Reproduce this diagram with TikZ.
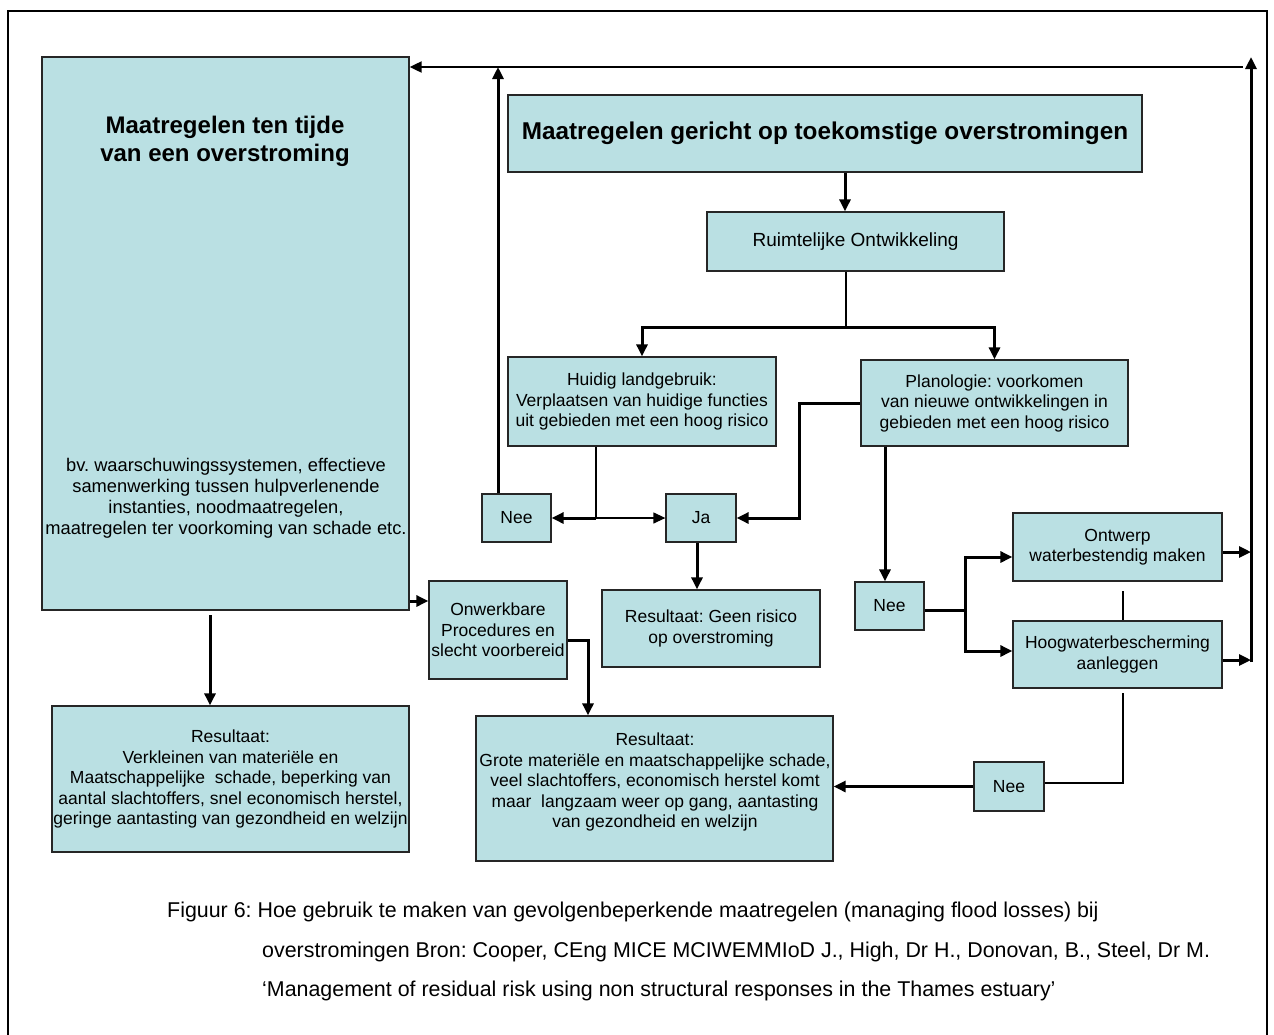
\documentclass[tikz,border=0pt]{standalone}
\usepackage{fontspec}
\setmainfont{Liberation Sans}
\usetikzlibrary{arrows.meta}
\definecolor{boxfill}{RGB}{186,224,227}
\frenchspacing
\begin{document}
\begin{tikzpicture}[x=1pt,y=-1pt,
  box/.style={draw=black!85, line width=1.3pt, fill=boxfill, align=center,
    inner sep=0pt, font=\fontsize{17.5}{20.5}\selectfont},
  boxtext/.style={align=center, inner sep=0pt, font=\fontsize{17.5}{20.5}\selectfont},
  titletext/.style={align=center, inner sep=0pt, font=\fontsize{24}{28}\selectfont\bfseries},
  captext/.style={anchor=base west, inner sep=0pt, font=\fontsize{21.4}{24}\selectfont},
  thinline/.style={line width=1.1pt},
  thickline/.style={line width=3pt},
  thickarrow/.style={line width=3pt, -{Triangle[length=12pt,width=11pt]}},
  thinarrow/.style={line width=1.3pt, -{Triangle[length=12pt,width=11pt]}},
]
\useasboundingbox (0,0) rectangle (1274,1034);
% page frame, open at the bottom edge
\draw[line width=1.3pt] (8,1040) -- (8,11) -- (1267,11) -- (1267,1040);

% boxes
\node[box, minimum width=367pt, minimum height=553pt] (L) at (225.5,333.5) {};
\node[titletext] (Ltitle) at (225,141) {Maatregelen ten tijde\\van een overstroming};
\node[boxtext, font=\fontsize{18.3}{21}\selectfont] (Lbody) at (226,498) {bv. waarschuwingssystemen, effectieve\\samenwerking tussen hulpverlenende\\instanties, noodmaatregelen,\\maatregelen ter voorkoming van schade etc.};

\node[box, minimum width=634pt, minimum height=77pt, font=\fontsize{24.3}{28}\selectfont\bfseries] (T) at (825,133.5) {Maatregelen gericht op toekomstige overstromingen};
\node[box, minimum width=297pt, minimum height=59pt, font=\fontsize{19}{21}\selectfont] (R) at (855.5,241.5) {Ruimtelijke Ontwikkeling};
\node[box, minimum width=268pt, minimum height=89pt] (H) at (642,401.5) {Huidig landgebruik:\\ Verplaatsen van huidige functies\\uit gebieden met een hoog risico};
\node[box, minimum width=267pt, minimum height=86pt] (P) at (994.5,403) {Planologie: voorkomen\\van nieuwe ontwikkelingen in\\gebieden met een hoog risico};
\node[box, minimum width=69pt, minimum height=48pt] (N1) at (516.5,518) {Nee};
\node[box, minimum width=70pt, minimum height=48pt] (J) at (701,518) {Ja};
\node[box, minimum width=218pt, minimum height=77pt] (G) at (711,628.5) {Resultaat: Geen risico\\op overstroming};
\node[box, minimum width=69pt, minimum height=48pt] (N2) at (889.5,606) {Nee};
\node[box, minimum width=209pt, minimum height=68pt] (O) at (1117.5,547) {Ontwerp\\waterbestendig maken};
\node[box, minimum width=209pt, minimum height=67pt] (HW) at (1117.5,654.5) {Hoogwaterbescherming\\aanleggen};
\node[box, minimum width=138pt, minimum height=98pt] (U) at (498,630) {Onwerkbare\\Procedures en\\slecht voorbereid};
\node[box, minimum width=357pt, minimum height=146pt] (RL) at (230.5,779) {Resultaat:\\Verkleinen van materiële en\\Maatschappelijke\ \ schade, beperking van\\aantal slachtoffers, snel economisch herstel,\\geringe aantasting van gezondheid en welzijn};
\node[box, minimum width=357pt, minimum height=145pt] (RM) at (654.5,788.5) {};
\node[boxtext] (RMtext) at (655,782) {Resultaat:\\Grote materiële en maatschappelijke schade,\\veel slachtoffers, economisch herstel komt\\maar\ \ langzaam weer op gang, aantasting\\van gezondheid en welzijn};
\node[box, minimum width=70pt, minimum height=49pt] (N3) at (1009,786.5) {Nee};

% routing points
\coordinate (tr) at (845,0);
\coordinate (split) at (846,327);
\coordinate (hj) at (596,518);
\coordinate (upN) at (498,67);
\coordinate (topR) at (1243,67);
\coordinate (rb) at (1251,662);
\coordinate (rt) at (1251,57);
\coordinate (oa) at (1251,552);
\coordinate (ha) at (1251,660);
\coordinate (pj) at (799,403);
\coordinate (jg) at (697,0);
\coordinate (pn) at (885,0);
\coordinate (br) at (965,610);
\coordinate (ob) at (0,557);
\coordinate (hb) at (0,651);
\coordinate (s1) at (1123,591);
\coordinate (s2) at (1123,620);
\coordinate (hn) at (1123,783);
\coordinate (hs) at (1123,693);
\coordinate (lu) at (0,601);
\coordinate (um) at (588,640);
\coordinate (lr) at (210,615);

% connectors
\draw[thickarrow] (T.south -| tr) -- (R.north -| tr);
\draw[thinline] (R.south -| split) -- (split);
\draw[thickarrow] (split) -| (H.north);
\draw[thickarrow] (split) -| (P.north);
\draw[thinline] (H.south -| hj) -- (hj);
\draw[thickarrow] (hj) -- (N1.east);
\draw[thinarrow] (hj) -- (J.west);
\draw[thickarrow] (N1.north -| upN) -- (upN);
\draw[line width=2pt, -{Triangle[length=12pt,width=11pt]}] (topR) -- (L.east |- topR);
\draw[thickarrow] (rb) -- (rt);
\draw[thickarrow] (O.east |- oa) -- (oa);
\draw[thickarrow] (HW.east |- ha) -- (ha);
\draw[thickarrow] (P.west) -- (pj) |- (J.east);
\draw[thickarrow] (J.south -| jg) -- (G.north -| jg);
\draw[thickarrow] (P.south -| pn) -- (N2.north -| pn);
\draw[thickline] (N2.east |- br) -- (br);
\draw[thickarrow] (br) |- (O.west |- ob);
\draw[thickarrow] (br) |- (HW.west |- hb);
\draw[thinline] (s1) -- (s2);
\draw[thinline] (hs) -- (hn) -- (N3.east |- hn);
\draw[thickarrow] (N3.west) -- (RM.east |- N3.west);
\draw[thickarrow] (L.east |- lu) -- (U.west |- lu);
\draw[thickarrow] (U.east |- um) -- (um) -- (RM.north -| um);
\draw[thickarrow] (lr) -- (RL.north -| lr);

% caption
\node[captext] (cap1) at (167,917) {Figuur 6: Hoe gebruik te maken van gevolgenbeperkende maatregelen (managing flood losses) bij};
\node[captext] (cap2) at (262,957) {overstromingen Bron: Cooper, CEng MICE MCIWEMMIoD J., High, Dr H., Donovan, B., Steel, Dr M.};
\node[captext] (cap3) at (262,996) {‘Management of residual risk using non structural responses in the Thames estuary’};
\end{tikzpicture}
\end{document}
